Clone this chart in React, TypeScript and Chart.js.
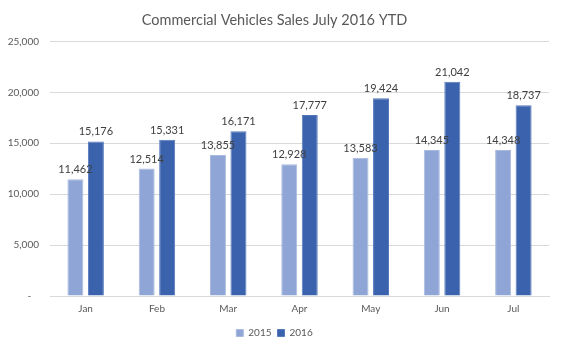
import React, { useEffect, useRef } from "react";
import { Chart, registerables } from "chart.js";

Chart.register(...registerables);

const months = ["Jan", "Feb", "Mar", "Apr", "May", "Jun", "Jul"];
const sales2015 = [11462, 12514, 13855, 12928, 13583, 14345, 14348];
const sales2016 = [15176, 15331, 16171, 17777, 19424, 21042, 18737];
const yTicks = [0, 5000, 10000, 15000, 20000, 25000];

const FONT = "Lato, 'Open Sans', sans-serif";

const fmt = (v: number) => (v === 0 ? "-   " : v.toLocaleString("en-US"));

const dataLabels = {
  id: "dataLabels",
  afterDatasetsDraw(chart: any) {
    const ctx = chart.ctx;
    ctx.save();
    ctx.font = `11px ${FONT}`;
    ctx.fillStyle = "#404040";
    ctx.textAlign = "center";
    ctx.textBaseline = "bottom";
    chart.data.datasets.forEach((ds: any, i: number) => {
      const meta = chart.getDatasetMeta(i);
      meta.data.forEach((el: any, j: number) => {
        ctx.fillText(fmt(ds.data[j]), el.x, el.y - 4);
      });
    });
    ctx.restore();
  },
};

export default function App() {
  const ref = useRef<HTMLCanvasElement>(null);
  useEffect(() => {
    document.body.style.margin = "0";
    const chart = new Chart(ref.current!, {
      type: "bar",
      data: {
        labels: months,
        datasets: [
          {
            label: "2015",
            data: sales2015,
            backgroundColor: "#8FA5D6",
            borderColor: "#A9BAE0",
            borderWidth: 1,
            categoryPercentage: 0.575,
            barPercentage: 0.78,
          },
          {
            label: "2016",
            data: sales2016,
            backgroundColor: "#3B63AD",
            borderColor: "#5579BC",
            borderWidth: 1,
            categoryPercentage: 0.575,
            barPercentage: 0.78,
          },
        ],
      },
      options: {
        responsive: false,
        animation: false,
        layout: { padding: { left: 0, right: 13, top: 12, bottom: 2 } },
        plugins: {
          title: {
            display: true,
            text: "Commercial Vehicles Sales July 2016 YTD",
            color: "#595959",
            font: { family: FONT, size: 14.5, weight: "normal" },
            padding: { top: 0, bottom: 12 },
          },
          legend: {
            position: "bottom",
            labels: {
              color: "#595959",
              font: { family: FONT, size: 10 },
              boxWidth: 7,
              boxHeight: 7,
              padding: 6,
            },
          },
          tooltip: { enabled: false },
        },
        scales: {
          x: {
            grid: { display: false, drawTicks: false },
            border: { display: true, color: "#D9D9D9" },
            ticks: { color: "#595959", font: { family: FONT, size: 10 }, padding: 7 },
          },
          y: {
            min: 0,
            max: 25000,
            afterFit: (s: any) => {
              s.width = 50;
            },
            afterBuildTicks: (s: any) => {
              s.ticks = yTicks.map((v) => ({ value: v }));
            },
            grid: { color: "#D9D9D9", drawTicks: false },
            border: { display: false },
            ticks: {
              color: "#595959",
              font: { family: FONT, size: 10 },
              padding: 11,
              callback: (v: any) => fmt(Number(v)),
            },
          },
        },
      },
      plugins: [dataLabels],
    });
    return () => chart.destroy();
  }, []);
  return <canvas ref={ref} width={562} height={350} />;
}
